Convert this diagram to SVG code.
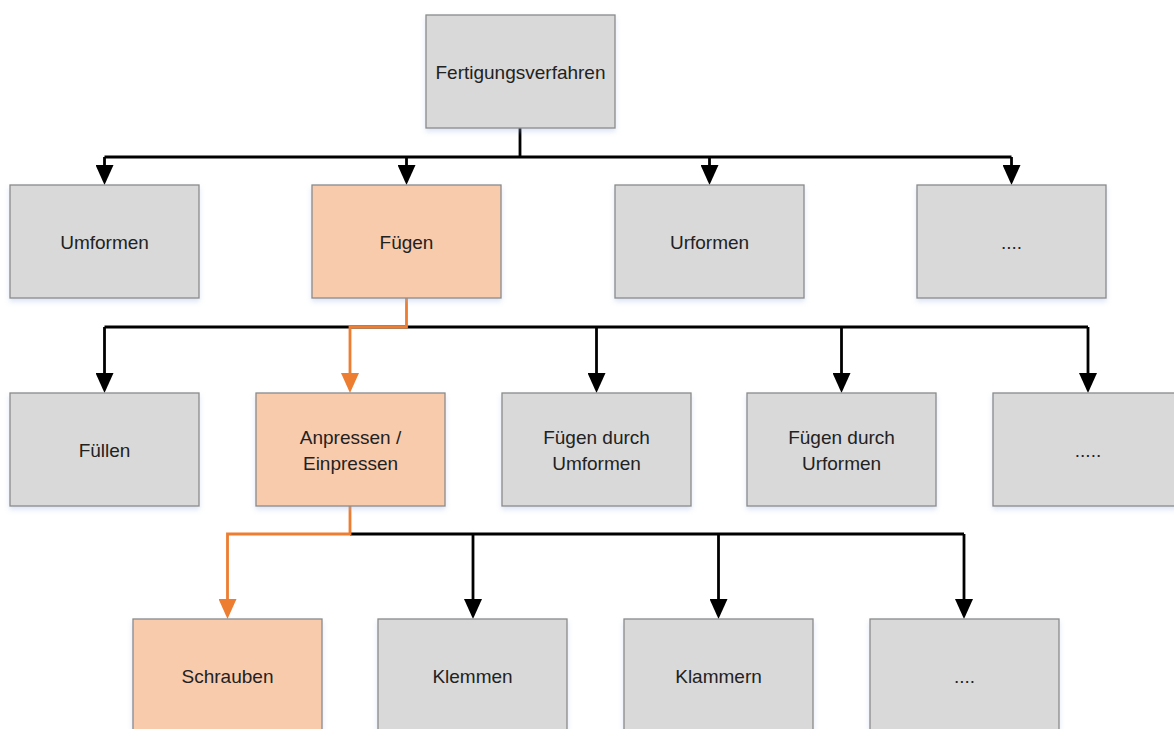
<svg xmlns="http://www.w3.org/2000/svg" width="1174" height="729" viewBox="0 0 1174 729">
<defs>
<style>
.box{fill:#d9d9d9;stroke:#8a8a8a;stroke-width:1.3;filter:url(#sh)}
.hl{fill:#f8cbad;stroke:#8a8a8a;stroke-width:1.3;filter:url(#sh)}
.lbl{font-family:"Liberation Sans",Arial,sans-serif;font-size:19px;fill:#222;text-anchor:middle;dominant-baseline:central}
.k{fill:none;stroke:#000;stroke-width:2.8;stroke-linejoin:miter}
.o{fill:none;stroke:#ed7d31;stroke-width:2.8;stroke-linejoin:miter}
.ka{marker-end:url(#ak)}
.oa{marker-end:url(#ao)}
</style>
<filter id="sh" x="-10%" y="-10%" width="120%" height="130%">
<feDropShadow dx="0" dy="3" stdDeviation="2.5" flood-color="#9db4dc" flood-opacity="0.35"/>
</filter>
<marker id="ak" viewBox="0 0 20 18" refX="11" refY="9" markerWidth="20" markerHeight="18" markerUnits="userSpaceOnUse" orient="auto">
<path d="M0,0 L20,9 L0,18 Z" fill="#000"/>
</marker>
<marker id="ao" viewBox="0 0 20 18" refX="11" refY="9" markerWidth="20" markerHeight="18" markerUnits="userSpaceOnUse" orient="auto">
<path d="M0,0 L20,9 L0,18 Z" fill="#ed7d31"/>
</marker>
</defs>
<rect width="1174" height="729" fill="#fff"/>
<g id="connectors">
<path class="k" d="M520,128 V157 M104.5,157 H1011.5"/>
<path class="k ka" d="M104.5,157 V176"/>
<path class="k ka" d="M406.5,157 V176"/>
<path class="k ka" d="M709.5,157 V176"/>
<path class="k ka" d="M1011.5,157 V176"/>
<path class="k" d="M104.5,327 H1088"/>
<path class="k ka" d="M104.5,327 V384"/>
<path class="k ka" d="M596.5,327 V384"/>
<path class="k ka" d="M841.5,327 V384"/>
<path class="k ka" d="M1088,327 V384"/>
<path class="o oa" d="M406.5,298 V327 H350 V384"/>
<path class="k" d="M350,534 H964"/>
<path class="k ka" d="M473,534 V610"/>
<path class="k ka" d="M718.5,534 V610"/>
<path class="k ka" d="M964,534 V610"/>
<path class="o oa" d="M350,506 V534 H227.5 V610"/>
</g>
<g id="n-fertigungsverfahren"><rect class="box" x="426" y="15" width="189" height="113"/><text class="lbl" x="520.5" y="72">Fertigungsverfahren</text></g>
<g id="n-umformen"><rect class="box" x="10" y="185" width="189" height="113"/><text class="lbl" x="104.5" y="242">Umformen</text></g>
<g id="n-fuegen"><rect class="hl" x="312" y="185" width="189" height="113"/><text class="lbl" x="406.5" y="242">Fügen</text></g>
<g id="n-urformen"><rect class="box" x="615" y="185" width="189" height="113"/><text class="lbl" x="709.5" y="242">Urformen</text></g>
<g id="n-etc1"><rect class="box" x="917" y="185" width="189" height="113"/><text class="lbl" x="1011.5" y="242">....</text></g>
<g id="n-fuellen"><rect class="box" x="10" y="393" width="189" height="113"/><text class="lbl" x="104.5" y="450">Füllen</text></g>
<g id="n-anpressen"><rect class="hl" x="256" y="393" width="189" height="113"/><text class="lbl" x="350.5" y="437">Anpressen /</text><text class="lbl" x="350.5" y="463">Einpressen</text></g>
<g id="n-fdumformen"><rect class="box" x="502" y="393" width="189" height="113"/><text class="lbl" x="596.5" y="437">Fügen durch</text><text class="lbl" x="596.5" y="463">Umformen</text></g>
<g id="n-fdurformen"><rect class="box" x="747" y="393" width="189" height="113"/><text class="lbl" x="841.5" y="437">Fügen durch</text><text class="lbl" x="841.5" y="463">Urformen</text></g>
<g id="n-etc2"><rect class="box" x="993" y="393" width="189" height="113"/><text class="lbl" x="1088" y="450">.....</text></g>
<g id="n-schrauben"><rect class="hl" x="133" y="619" width="189" height="113"/><text class="lbl" x="227.5" y="676">Schrauben</text></g>
<g id="n-klemmen"><rect class="box" x="378" y="619" width="189" height="113"/><text class="lbl" x="472.5" y="676">Klemmen</text></g>
<g id="n-klammern"><rect class="box" x="624" y="619" width="189" height="113"/><text class="lbl" x="718.5" y="676">Klammern</text></g>
<g id="n-etc3"><rect class="box" x="870" y="619" width="189" height="113"/><text class="lbl" x="964.5" y="676">....</text></g>
</svg>
